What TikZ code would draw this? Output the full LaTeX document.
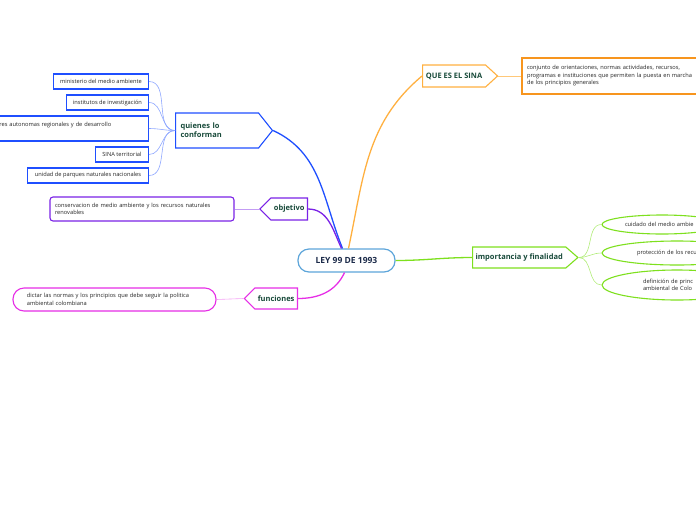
\documentclass[tikz,border=0pt]{standalone}
\usepackage{fontspec}
\setmainfont{Open Sans}
\usepackage{tikz}
\usetikzlibrary{shapes.geometric,shapes.symbols,positioning}
\definecolor{LeyNavy}{HTML}{1C2B4A}
\definecolor{LeyCyan}{HTML}{5DA5DA}
\definecolor{LeyInk}{HTML}{184A3A}
\definecolor{LeyBlue}{HTML}{1F4FFF}
\definecolor{LeyPurple}{HTML}{7A22E6}
\definecolor{LeyMagenta}{HTML}{E62EE6}
\definecolor{LeyAmber}{HTML}{FFB040}
\definecolor{LeyOrange}{HTML}{F7951E}
\definecolor{LeyLime}{HTML}{7EE01E}
\tikzset{
  hub/.style={draw=LeyCyan,line width=1.2pt,rounded corners=11pt,fill=white,
    minimum width=97pt,minimum height=23pt,font=\fontsize{8.5}{10}\selectfont\bfseries,text=LeyNavy},
  branch/.style={signal,draw,line width=1.1pt,fill=white,inner sep=3pt,
    font=\fontsize{7.5}{9}\selectfont\bfseries,text=LeyInk,signal pointer angle=90},
  leaf/.style={draw,line width=1.1pt,fill=white,inner xsep=5pt,inner ysep=2pt,
    font=\fontsize{5.7}{7.5}\selectfont,text=black!85},
  trunk/.style={line width=1.3pt},
  twig/.style={line width=0.6pt}
}

\begin{document}
\begin{tikzpicture}[x=1pt,y=1pt]
  \useasboundingbox (0,0) rectangle (696,-520);
  \clip (0,0) rectangle (696,-520);
  % centre and main branches
  \node[hub] (ley) at (346.5,-260.5) {LEY 99 DE 1993};
  \node[branch,signal to=east,draw=LeyBlue,anchor=west,minimum height=35pt,inner xsep=5pt,
    text width=73pt,signal pointer angle=103,align=left] (quienes) at (175,-130.5) {quienes lo\\conforman};
  \node[branch,signal to=west,draw=LeyPurple,anchor=east,minimum width=46pt,minimum height=22pt] (objetivo) at (308,-209) {objetivo};
  \node[branch,signal to=west,draw=LeyMagenta,anchor=east,minimum width=53pt,minimum height=21pt] (funciones) at (298,-298.5) {funciones};
  \node[branch,signal to=east,draw=LeyAmber,anchor=west,minimum width=75pt,minimum height=22pt,
    signal pointer angle=85] (sina) at (422,-76) {QUE ES EL SINA};
  \node[branch,signal to=east,draw=LeyLime,anchor=west,minimum width=103pt,minimum height=21pt,
    signal pointer angle=82] (fines) at (472,-257.5) {importancia y finalidad};
  % leaves
  \foreach \n/\y/\w/\txt in {m1/81.5/95/ministerio del medio ambiente,
      m2/102.5/82/institutos de investigación,
      m4/154.5/53/SINA territorial,
      m5/175.5/121/unidad de parques naturales nacionales}
    \node[leaf,draw=LeyBlue,anchor=east,minimum width=\w pt,minimum height=15pt] (\n) at (149,-\y) {\txt};
  \node[leaf,draw=LeyBlue,anchor=east,minimum height=25pt,text width=139pt,inner xsep=10pt,
    align=left] (m3) at (149,-128.5) {res autonomas regionales y de desarrollo\\\mbox{}};
  \node[leaf,draw=LeyPurple,rounded corners=3pt,minimum height=24pt,text width=174pt,align=left]
    (goal) at (142,-209) {conservacion de medio ambiente y los recursos naturales\\renovables};
  \node[leaf,draw=LeyMagenta,rounded corners=11pt,minimum height=23pt,inner xsep=14pt,
    text width=175pt,align=left] (task) at (114.5,-299.5)
    {dictar las normas y los principios que debe seguir la politica\\ambiental colombiana};
  \node[leaf,draw=LeyOrange,minimum height=36pt,text width=188pt,align=left] (what) at (621,-76)
    {conjunto de orientaciones, normas actividades, recursos,\\programas e instituciones que permiten la puesta en marcha\\de los principios generales};
  \node[leaf,ellipse,draw=LeyLime,minimum width=120pt,minimum height=19pt,text width=74pt,
    align=left] (e1) at (662,-224.5) {cuidado del medio ambie};
  \node[leaf,ellipse,draw=LeyLime,minimum width=150pt,minimum height=24pt,text width=80pt,
    align=left] (e2) at (677,-253) {protección de los recu};
  \node[leaf,ellipse,draw=LeyLime,minimum width=150pt,minimum height=30pt,text width=68pt,
    align=left] (e3) at (677,-285) {definición de princ\\ambiental de Colo};
  % connectors
  \draw[trunk,LeyBlue] ([xshift=-4pt]ley.north) to[out=112,in=-25] (quienes.east);
  \draw[trunk,LeyAmber] ([xshift=2pt]ley.north) to[out=78,in=220] (sina.west);
  \draw[trunk,LeyPurple] (objetivo.east) to[out=0,in=115] ([xshift=-5pt]ley.north);
  \draw[trunk,LeyMagenta] ([xshift=-2pt]ley.south) to[out=-115,in=0] (funciones.east);
  \draw[trunk,LeyLime] (ley.east) to[out=0,in=180] (fines.west);
  \foreach \n in {m1,m2,m3,m4,m5}
    \draw[twig,LeyBlue!50] (quienes.west) to[out=180,in=0] (\n.east);
  \draw[twig,LeyPurple!45] (objetivo.west) -- (goal.east);
  \draw[twig,LeyMagenta!45] (funciones.west) -- (task.east);
  \draw[twig,LeyAmber!70] (sina.east) -- (what.west);
  \foreach \n in {e1,e2,e3}
    \draw[twig,LeyLime!60] (fines.east) to[out=0,in=180] (\n.west);
\end{tikzpicture}
\end{document}
